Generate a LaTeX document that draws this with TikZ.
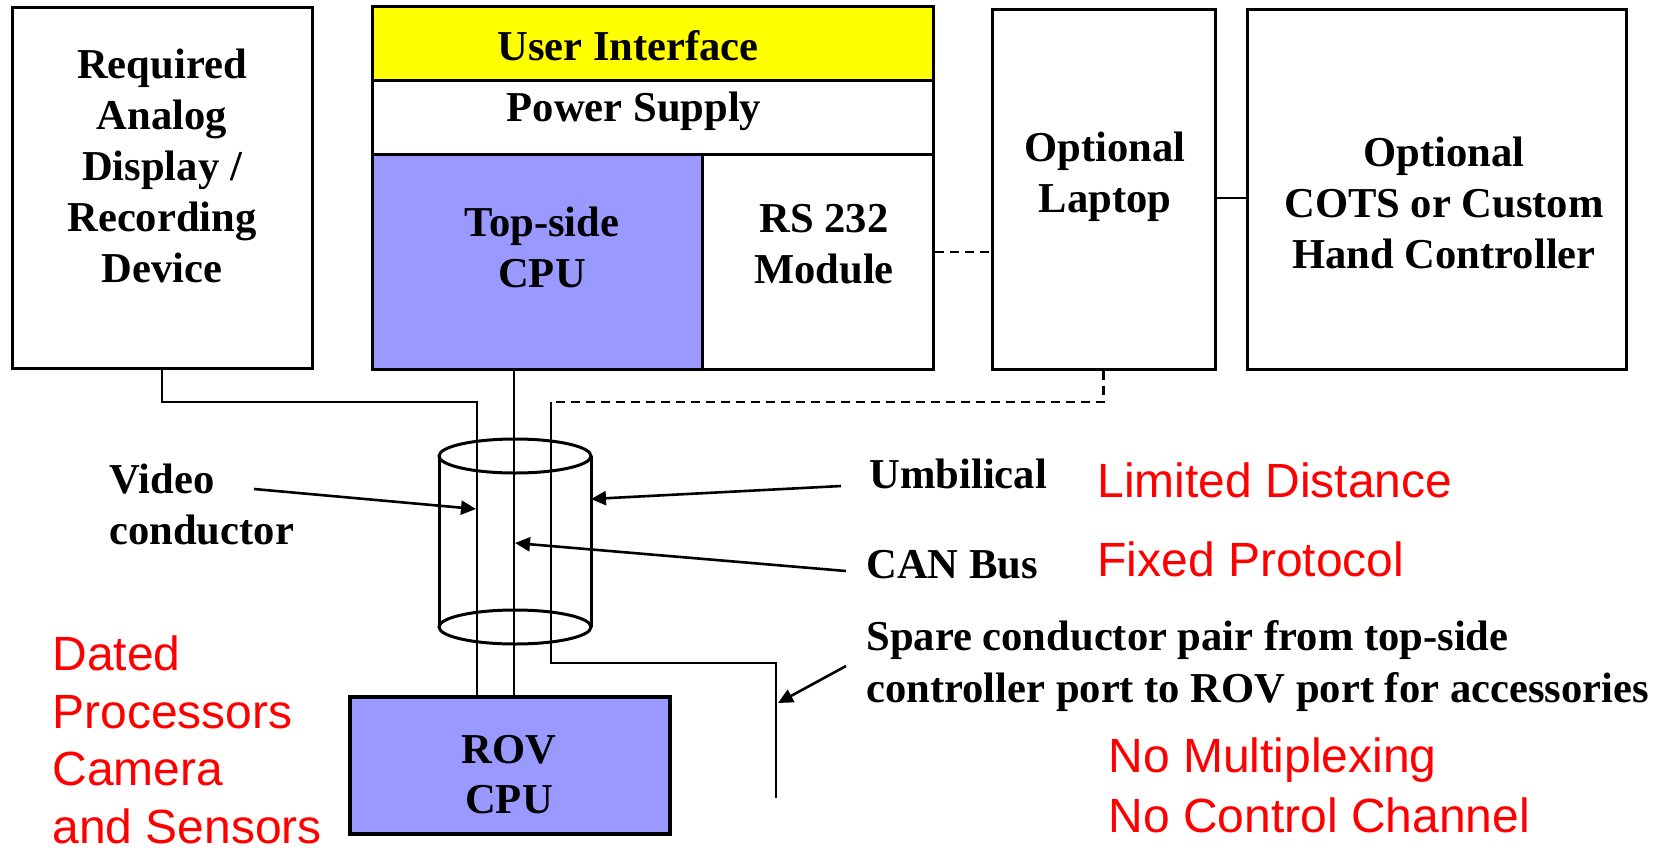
\documentclass[tikz,border=0pt]{standalone}
\usepackage{fontspec}
\setmainfont{Liberation Serif}
\newfontfamily\arialfont{Liberation Sans}
\usetikzlibrary{arrows.meta}
\definecolor{uiyellow}{RGB}{255,255,0}
\definecolor{cpublue}{RGB}{153,153,255}
\begin{document}
\begin{tikzpicture}[x=0.5pt, y=-0.5pt,
  unit/.style = {draw, line width=1.5pt, inner sep=0pt},
  lbl/.style = {font=\bfseries\fontsize{21.3}{25.5}\selectfont, inner sep=0pt, align=center, anchor=base},
  side/.style = {lbl, align=left, anchor=base west},
  note/.style = {font=\arialfont\fontsize{24}{28.75}\selectfont, text=red, inner sep=0pt, align=left, anchor=base west},
  wire/.style = {line width=1pt},
  optwire/.style = {line width=1.3pt, dash pattern=on 4.5pt off 3pt},
  pointer/.style = {line width=1.3pt, -{Triangle[length=7.5pt, width=7pt]}}]
\useasboundingbox (0,0) rectangle (1663,851);

% boxes
\node[unit, minimum width=150pt, minimum height=180.5pt] (disp) at (162,187.5) {};
\node[unit, fill=uiyellow, minimum width=280.5pt, minimum height=37pt] (ui) at (652.5,43) {};
\node[unit, minimum width=280.5pt, minimum height=37pt] (power) at (652.5,117) {};
\node[unit, fill=cpublue, minimum width=165pt, minimum height=107.5pt] (tcpu) at (537,261.5) {};
\node[unit, minimum width=115.5pt, minimum height=107.5pt] (rs) at (817.5,261.5) {};
\node[unit, minimum width=111.5pt, minimum height=180pt] (laptop) at (1103.5,189) {};
\node[unit, minimum width=189.5pt, minimum height=180pt] (hand) at (1436.5,189) {};
\node[unit, line width=2pt, fill=cpublue, minimum width=160pt, minimum height=68.5pt] (rov) at (510,765.5) {};

% box texts (placed at the baseline of their last line)
\node[lbl] (disptext) at (162,282) {Required\\Analog\\Display /\\Recording\\Device};
\node[lbl] (uitext) at (628,60) {User Interface};
\node[lbl] (powertext) at (634,121) {Power Supply};
\node[lbl] (tcputext) at (542,287) {Top-side\\CPU};
\node[lbl] (rstext) at (824,283) {RS 232\\Module};
\node[lbl] (laptoptext) at (1105,212) {Optional\\Laptop};
\node[lbl] (handtext) at (1444,268) {Optional\\COTS or Custom\\Hand Controller};
\node[lbl, font=\bfseries\fontsize{21.3}{25}\selectfont] (rovtext) at (509,813) {ROV\\CPU};

% labels
\node[side] (video) at (109,544) {Video\\conductor};
\node[side] (umb) at (869,488) {Umbilical};
\node[side] (can) at (866,578) {CAN Bus};
\node[side, font=\bfseries\fontsize{21.3}{26}\selectfont] (spare) at (866,702) {Spare conductor pair from top-side\\controller port to ROV port for accessories};
\node[note] (dated) at (52,843) {Dated\\Processors\\Camera\\and Sensors};
\node[note] (limited) at (1097,497) {Limited Distance};
\node[note] (fixed) at (1097,576) {Fixed Protocol};
\node[note, font=\arialfont\fontsize{24}{30}\selectfont] (nomux) at (1108,832) {No Multiplexing\\No Control Channel};

% umbilical
\draw[line width=1.5pt] (515,456) ellipse [x radius=76, y radius=17];
\draw[line width=1.5pt] (515,627) ellipse [x radius=76, y radius=17];
\draw[line width=1.5pt] (439,456) -- (439,627);
\draw[line width=1.5pt] (591,456) -- (591,627);
\coordinate (umbside) at (591,499);

% conductors
\coordinate (vidbend) at (477,402);
\coordinate (canx) at (514,0);
\coordinate (sparetop) at (551,402);
\coordinate (sparecorner) at (776,663);
\coordinate (spareend) at (776,798);
\coordinate (serialy) at (0,252);
\coordinate (handy) at (0,198);
\draw[wire] (disp.south) |- (vidbend) -- (vidbend |- rov.north);
\draw[wire] (canx |- tcpu.south) -- (canx |- rov.north);
\draw[optwire] (laptop.south) |- (sparetop);
\draw[wire] (sparetop) |- (sparecorner) -- (spareend);
\draw[optwire] (rs.east |- serialy) -- (laptop.west |- serialy);
\draw[wire, line width=1.3pt] (laptop.east |- handy) -- (hand.west |- handy);

% pointers
\coordinate (videofrom) at (254,489);
\coordinate (videoto) at (476,509);
\coordinate (umbfrom) at (841,486);
\coordinate (canfrom) at (846,571);
\coordinate (canto) at (515,543);
\coordinate (sparefrom) at (846,666);
\coordinate (spareto) at (778,703);
\draw[pointer] (videofrom) -- (videoto);
\draw[pointer] (umbfrom) -- (umbside);
\draw[pointer] (canfrom) -- (canto);
\draw[pointer] (sparefrom) -- (spareto);
\end{tikzpicture}
\end{document}
